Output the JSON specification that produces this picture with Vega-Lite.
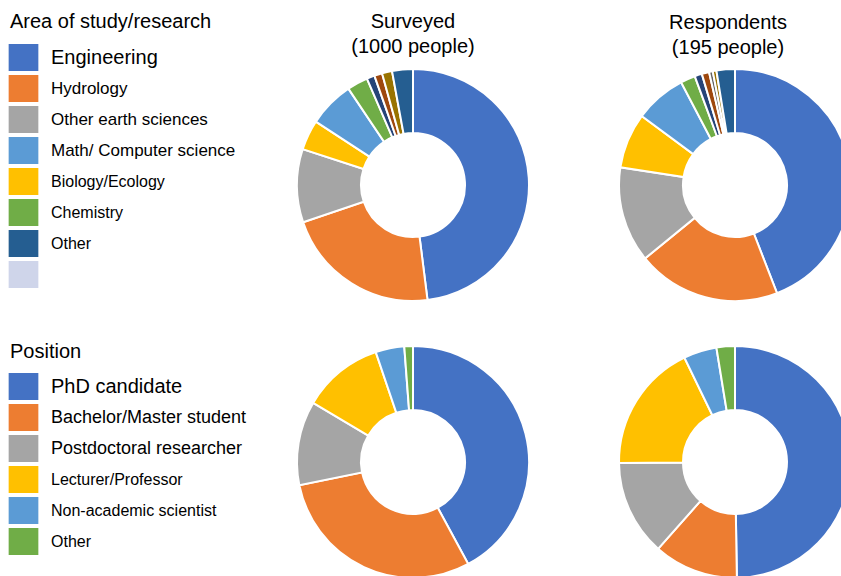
{
  "$schema": "https://vega.github.io/schema/vega-lite/v6.json",
  "padding": {"left": 10, "top": 12, "right": 0, "bottom": 0},
  "background": "white",
  "config": {
    "view": {"stroke": null},
    "font": "Liberation Sans",
    "title": {"font": "Liberation Sans", "fontSize": 20, "fontWeight": "normal", "color": "black", "lineHeight": 25, "offset": 7},
    "legend": {"padding": 0}
  },
  "datasets": {
    "area_surveyed": [
      {"category": "Engineering", "count": 480, "k": 1},
      {"category": "Hydrology", "count": 218, "k": 2},
      {"category": "Other earth sciences", "count": 102, "k": 3},
      {"category": "Biology/Ecology", "count": 42, "k": 4},
      {"category": "Math/ Computer science", "count": 64, "k": 5},
      {"category": "Chemistry", "count": 29, "k": 6},
      {"category": "Unlisted 1", "count": 11, "k": 7},
      {"category": "Unlisted 2", "count": 11, "k": 8},
      {"category": "Unlisted 4", "count": 14, "k": 10},
      {"category": "Other", "count": 29, "k": 11}
    ],
    "area_resp": [
      {"category": "Engineering", "count": 86, "k": 1},
      {"category": "Hydrology", "count": 39, "k": 2},
      {"category": "Other earth sciences", "count": 26, "k": 3},
      {"category": "Biology/Ecology", "count": 15, "k": 4},
      {"category": "Math/ Computer science", "count": 14, "k": 5},
      {"category": "Chemistry", "count": 4, "k": 6},
      {"category": "Unlisted 1", "count": 2, "k": 7},
      {"category": "Unlisted 2", "count": 2, "k": 8},
      {"category": "Unlisted 3", "count": 1, "k": 9},
      {"category": "Unlisted 4", "count": 1, "k": 10},
      {"category": "Other", "count": 5, "k": 11}
    ],
    "pos_surveyed": [
      {"category": "PhD candidate", "count": 421, "k": 1},
      {"category": "Bachelor/Master student", "count": 297, "k": 2},
      {"category": "Postdoctoral researcher", "count": 117, "k": 3},
      {"category": "Lecturer/Professor", "count": 113, "k": 4},
      {"category": "Non-academic scientist", "count": 40, "k": 5},
      {"category": "Other", "count": 12, "k": 6}
    ],
    "pos_resp": [
      {"category": "PhD candidate", "count": 97, "k": 1},
      {"category": "Bachelor/Master student", "count": 23, "k": 2},
      {"category": "Postdoctoral researcher", "count": 26, "k": 3},
      {"category": "Lecturer/Professor", "count": 35, "k": 4},
      {"category": "Non-academic scientist", "count": 9, "k": 5},
      {"category": "Other", "count": 5, "k": 6}
    ]
  },
  "columns": 2,
  "spacing": {"row": 37, "column": 82},
  "resolve": {"scale": {"color": "independent", "theta": "independent"}, "legend": {"color": "independent"}},
  "concat": [
    {
      "title": {"text": ["Surveyed", "(1000 people)"], "offset": -45},
      "width": 232, "height": 232,
      "data": {"name": "area_surveyed"},
      "mark": {"type": "arc", "outerRadius": 116, "innerRadius": 52, "stroke": "white", "strokeWidth": 2},
      "encoding": {
        "theta": {"field": "count", "type": "quantitative", "stack": true},
        "order": {"field": "k", "type": "quantitative"},
        "color": {
          "field": "category", "type": "nominal",
          "scale": {
            "domain": ["Engineering", "Hydrology", "Other earth sciences", "Biology/Ecology", "Math/ Computer science", "Chemistry", "Unlisted 1", "Unlisted 2", "Unlisted 3", "Unlisted 4", "Other", "(blank)"],
            "range": ["#4472C4", "#ED7D31", "#A5A5A5", "#FFC000", "#5B9BD5", "#70AD47", "#264478", "#9E480E", "#636363", "#997300", "#255E91", "#CFD5EA"]
          },
          "legend": {
            "title": "Area of study/research",
            "values": ["Engineering", "Hydrology", "Other earth sciences", "Math/ Computer science", "Biology/Ecology", "Chemistry", "Other", "(blank)"],
            "labelExpr": "datum.label == '(blank)' ? '' : datum.label",
            "orient": "none", "legendX": -287, "legendY": -57,
            "titleFontSize": 20, "titleFontWeight": "normal", "titleColor": "black", "titleFont": "Liberation Sans", "titlePadding": 12, "titleLimit": 400,
            "symbolType": "M-1.1,-1H1.1V1H-1.1Z", "symbolSize": 729, "symbolStrokeWidth": 0, "symbolOpacity": 1,
            "labelFontSize": {"expr": "datum.value == 'Engineering' ? 20 : (indexof(['Hydrology','Other earth sciences','Math/ Computer science'], datum.value) >= 0 ? 17 : 16)"},
            "labelColor": "black", "labelFont": "Liberation Sans", "labelOffset": 14, "rowPadding": 4,
            "labelLimit": 400
          }
        }
      }
    },
    {
      "title": {"text": ["Respondents", "(195 people)"], "dx": -7},
      "width": 232, "height": 232,
      "data": {"name": "area_resp"},
      "mark": {"type": "arc", "outerRadius": 116, "innerRadius": 52, "stroke": "white", "strokeWidth": 2},
      "encoding": {
        "theta": {"field": "count", "type": "quantitative", "stack": true},
        "order": {"field": "k", "type": "quantitative"},
        "color": {
          "field": "category", "type": "nominal",
          "scale": {
            "domain": ["Engineering", "Hydrology", "Other earth sciences", "Biology/Ecology", "Math/ Computer science", "Chemistry", "Unlisted 1", "Unlisted 2", "Unlisted 3", "Unlisted 4", "Other", "(blank)"],
            "range": ["#4472C4", "#ED7D31", "#A5A5A5", "#FFC000", "#5B9BD5", "#70AD47", "#264478", "#9E480E", "#636363", "#997300", "#255E91", "#CFD5EA"]
          },
          "legend": null
        }
      }
    },
    {
      "width": 232, "height": 232,
      "data": {"name": "pos_surveyed"},
      "mark": {"type": "arc", "outerRadius": 116, "innerRadius": 52, "stroke": "white", "strokeWidth": 2},
      "encoding": {
        "theta": {"field": "count", "type": "quantitative", "stack": true},
        "order": {"field": "k", "type": "quantitative"},
        "color": {
          "field": "category", "type": "nominal",
          "scale": {
            "domain": ["PhD candidate", "Bachelor/Master student", "Postdoctoral researcher", "Lecturer/Professor", "Non-academic scientist", "Other"],
            "range": ["#4472C4", "#ED7D31", "#A5A5A5", "#FFC000", "#5B9BD5", "#70AD47"]
          },
          "legend": {
            "title": "Position",
            "orient": "none", "legendX": -287, "legendY": -4,
            "titleFontSize": 20, "titleFontWeight": "normal", "titleColor": "black", "titleFont": "Liberation Sans", "titlePadding": 11,
            "symbolType": "M-1.1,-1H1.1V1H-1.1Z", "symbolSize": 729, "symbolStrokeWidth": 0, "symbolOpacity": 1,
            "labelFontSize": {"expr": "datum.value == 'PhD candidate' ? 20 : (indexof(['Bachelor/Master student','Postdoctoral researcher'], datum.value) >= 0 ? 18 : 16)"},
            "labelColor": "black", "labelFont": "Liberation Sans", "labelOffset": 14, "rowPadding": 4,
            "labelLimit": 400
          }
        }
      }
    },
    {
      "width": 232, "height": 232,
      "data": {"name": "pos_resp"},
      "mark": {"type": "arc", "outerRadius": 116, "innerRadius": 52, "stroke": "white", "strokeWidth": 2},
      "encoding": {
        "theta": {"field": "count", "type": "quantitative", "stack": true},
        "order": {"field": "k", "type": "quantitative"},
        "color": {
          "field": "category", "type": "nominal",
          "scale": {
            "domain": ["PhD candidate", "Bachelor/Master student", "Postdoctoral researcher", "Lecturer/Professor", "Non-academic scientist", "Other"],
            "range": ["#4472C4", "#ED7D31", "#A5A5A5", "#FFC000", "#5B9BD5", "#70AD47"]
          },
          "legend": null
        }
      }
    }
  ]
}
